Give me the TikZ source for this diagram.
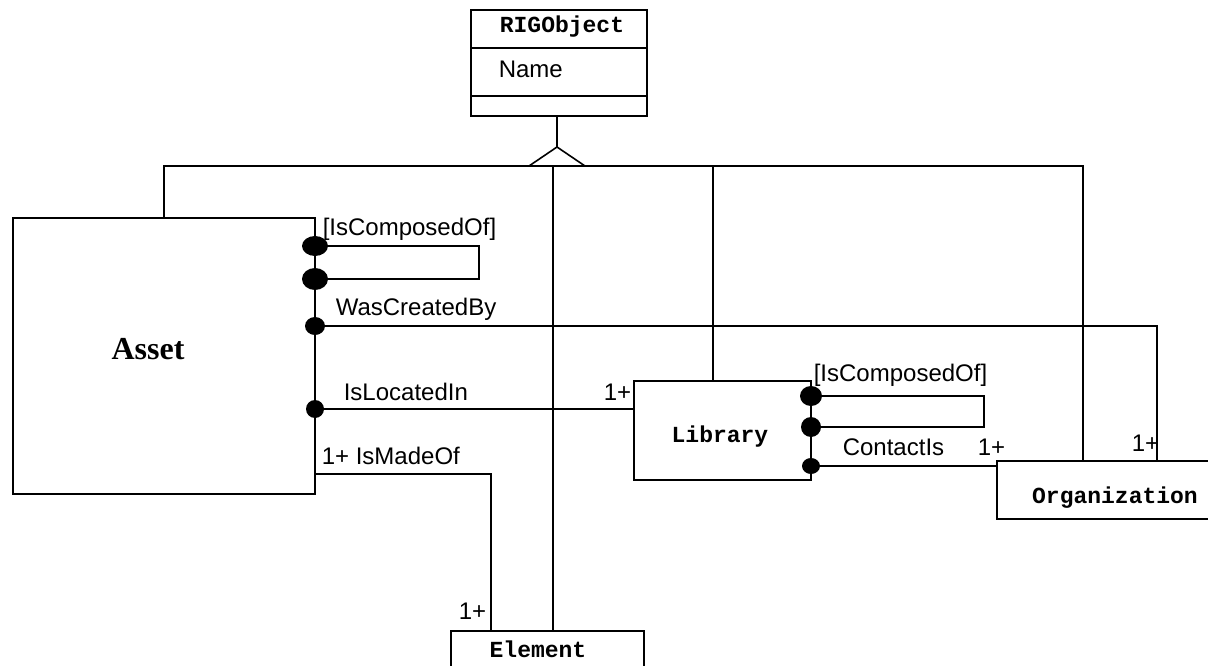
\documentclass[tikz,border=0pt]{standalone}
\usepackage{fontspec}
\setmainfont{Liberation Sans}
\newfontfamily\classfont{Liberation Mono}
\newfontfamily\assetfont{Liberation Serif}
\begin{document}
\begin{tikzpicture}[x=1pt,y=-1pt,line width=1.6pt,
  box/.style={draw,line width=1.6pt,inner sep=0pt,outer sep=0pt,anchor=north west},
  lbl/.style={font=\fontsize{24}{26}\selectfont,inner sep=0pt,anchor=base west},
  cls/.style={font=\classfont\bfseries\fontsize{23}{25}\selectfont,inner sep=0pt,anchor=base},
  bigcls/.style={font=\assetfont\bfseries\fontsize{32}{34}\selectfont,inner sep=0pt,anchor=base},
  hollow/.style={draw,fill=white,line width=1.6pt}]
\useasboundingbox (0,0) rectangle (1208,666);

% class boxes
\node[box,minimum width=176pt,minimum height=106pt] (rig) at (471,10) {};
\node[box,minimum width=302pt,minimum height=276pt] (asset) at (13,218) {};
\node[box,minimum width=177pt,minimum height=99pt] (lib) at (634,381) {};
\node[box,minimum width=240pt,minimum height=58pt] (org) at (997,461) {};
\node[box,minimum width=193pt,minimum height=60pt] (elem) at (451,631) {};

% RIGObject compartments
\draw (rig.west |- 0,48) -- (rig.east |- 0,48);
\draw (rig.west |- 0,96) -- (rig.east |- 0,96);

% class names and attribute
\node[cls] (rigname) at (562,33) {RIGObject};
\node[lbl] (nameattr) at (498,78) {Name};
\node[bigcls] (assetname) at (148,359) {Asset};
\node[cls] (libname) at (720,442) {Library};
\node[cls] (orgname) at (1115,503) {Organization};
\node[cls] (elemname) at (538,657) {Element};

% generalization
\coordinate (apex) at (557,147);
\coordinate (busL) at (164,166);
\coordinate (busR) at (1083,166);
\coordinate (libstem) at (713,166);
\coordinate (elemstem) at (553,166);
\draw (rig.south -| apex) -- (apex);
\draw (asset.north) -- (busL) -- (busR) -- (busR |- org.north);
\draw (libstem) -- (libstem |- lib.north);
\draw (elemstem) -- (elemstem |- elem.north);
\draw[hollow] (apex) -- (529,166) -- (585,166) -- cycle;

% Asset associations
\coordinate (aC1) at (asset.east |- 0,246);
\coordinate (aC2) at (asset.east |- 0,279);
\coordinate (aW) at (asset.east |- 0,326);
\coordinate (aL) at (asset.east |- 0,409);
\coordinate (aM) at (asset.east |- 0,474);
\coordinate (aLoop) at (479,246);
\coordinate (wTurn) at (1157,326);
\coordinate (mTurn) at (491,474);

\draw (aC1) -- (aLoop) -- (aLoop |- aC2) -- (aC2);
\draw (aW) -- (wTurn) -- (wTurn |- org.north);
\draw (aL) -- (aL -| lib.west);
\draw (aM) -- (mTurn) -- (mTurn |- elem.north);

\fill (aC1) ellipse [x radius=13pt,y radius=10pt];
\fill (aC2) ellipse [x radius=13pt,y radius=11pt];
\fill (aW) ellipse [x radius=10pt,y radius=9pt];
\fill (aL) ellipse [x radius=9pt,y radius=9pt];

\node[lbl] (acomp) at (322,235) {[IsComposedOf]};
\node[lbl] (awas) at (335,315) {WasCreatedBy};
\node[lbl] (aloc) at (343,400) {IsLocatedIn};
\node[lbl] (alocm) at (603,400) {1+};
\node[lbl] (amade) at (321,464) {1+ IsMadeOf};
\node[lbl] (amadem) at (458,619) {1+};
\node[lbl] (worgm) at (1131,451) {1+};

% Library associations
\coordinate (lC1) at (lib.east |- 0,396);
\coordinate (lC2) at (lib.east |- 0,427);
\coordinate (lCt) at (lib.east |- 0,466);
\coordinate (lLoop) at (984,396);
\draw (lC1) -- (lLoop) -- (lLoop |- lC2) -- (lC2);
\draw (lCt) -- (lCt -| org.west);
\fill (lC1) ellipse [x radius=11pt,y radius=10pt];
\fill (lC2) ellipse [x radius=10pt,y radius=10pt];
\fill (lCt) ellipse [x radius=9pt,y radius=8pt];

\node[lbl] (lcomp) at (813,381) {[IsComposedOf]};
\node[lbl] (lcont) at (842,455) {ContactIs};
\node[lbl] (lcontm) at (977,455) {1+};
\end{tikzpicture}
\end{document}
